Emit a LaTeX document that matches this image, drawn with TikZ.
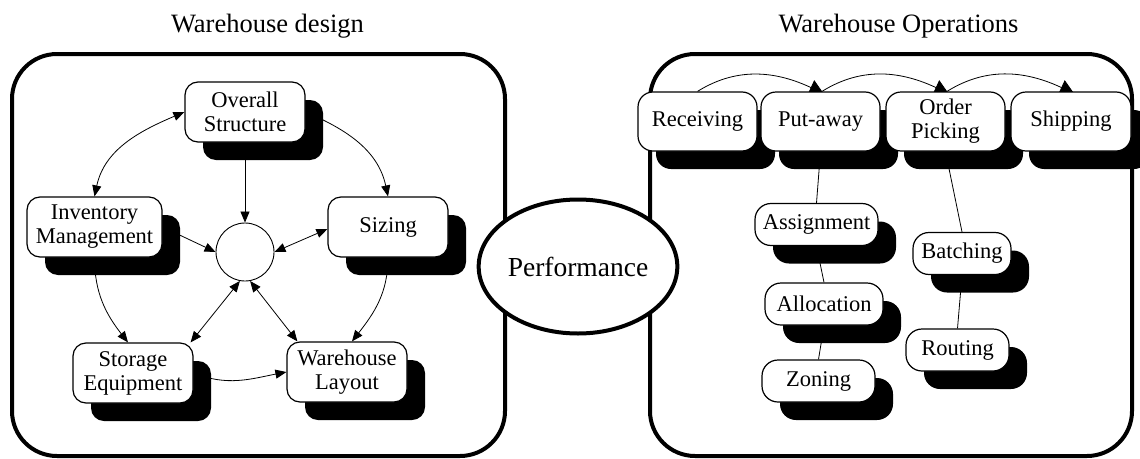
\documentclass[tikz,border=0pt]{standalone}
\usepackage{fontspec}
\setmainfont{Liberation Serif}
\usetikzlibrary{shapes.geometric,shadows,arrows.meta}

\pgfdeclarelayer{frames}
\pgfdeclarelayer{links}
\pgfsetlayers{frames,links,main}

\tikzset{
  card/.style={draw, line width=1.2pt, fill=white, align=center, inner sep=0pt,
    rounded corners=13pt, font=\fontsize{22.5}{24}\selectfont,
    drop shadow={shadow xshift=18pt, shadow yshift=-18pt, fill=black, opacity=1}},
  bigcard/.style={card, minimum width=120pt, minimum height=60pt},
  pill/.style={card, rounded corners=16pt, minimum height=42pt},
  frame/.style={draw, line width=4pt, rounded corners=45pt},
  link/.style={line width=0.8pt},
  tip/.style={-{Triangle[length=11pt,width=9pt]}},
  tips/.style={{Triangle[length=11pt,width=9pt]}-{Triangle[length=11pt,width=9pt]}},
  flowtip/.style={-{Triangle[length=14pt,width=16pt]}},
  title/.style={anchor=base, font=\fontsize{26.5}{30}\selectfont},
}

\begin{document}
\begin{tikzpicture}[x=1pt,y=1pt]
\useasboundingbox (0,0) rectangle (1140,-458);

% headings
\node[title] (t1) at (267.5,-32) {Warehouse design};
\node[title] (t2) at (898.5,-32) {Warehouse Operations};

% outer frames
\begin{pgfonlayer}{frames}
  \draw[frame] (12,-54) rectangle (505,-456);
  \draw[frame] (650,-54) rectangle (1132,-456);
\end{pgfonlayer}

% design elements
\node[bigcard] (os) at (245,-112) {Overall\\Structure};
\node[bigcard, minimum width=135pt] (inv) at (94.5,-227) {Inventory\\Management};
\node[bigcard] (sz) at (388,-227) {Sizing};
\node[bigcard] (st) at (133,-373) {Storage\\Equipment};
\node[bigcard] (wl) at (347,-372) {Warehouse\\Layout};
\node[draw, circle, line width=0.9pt, fill=white, minimum size=58pt, inner sep=0pt] (c) at (245,-252) {};

% operations flow
\node[bigcard, minimum width=119pt, minimum height=59pt, rounded corners=15pt] (rc) at (697.5,-121.5) {Receiving};
\node[bigcard, minimum width=119pt, minimum height=59pt, rounded corners=15pt] (pa) at (820.5,-121.5) {Put-away};
\node[bigcard, minimum width=119pt, minimum height=59pt, rounded corners=15pt] (op) at (945.5,-121.5) {Order\\Picking};
\node[bigcard, minimum width=120pt, minimum height=59pt, rounded corners=15pt] (sh) at (1071,-121.5) {Shipping};

% put-away and picking decisions
\node[pill, minimum width=123pt] (asg) at (816.5,-224.5) {Assignment};
\node[pill, minimum width=118pt] (alc) at (824,-304) {Allocation};
\node[pill, minimum width=113pt] (zn) at (818.5,-381) {Zoning};
\node[pill, minimum width=98pt] (bt) at (962,-253.5) {Batching};
\node[pill, minimum width=103pt] (rt) at (957.5,-350) {Routing};

% central measure
\node[draw, ellipse, line width=4pt, fill=white, minimum width=194pt, minimum height=134pt,
  inner sep=0pt, font=\fontsize{27.5}{30}\selectfont] (perf) at (578,-266.5) {Performance};

\begin{pgfonlayer}{links}
  % design relations
  \draw[link,tips] (os.west) to[out=203,in=78] (inv.north);
  \draw[link,tip] (os.east) to[out=-23,in=102] (sz.north);
  \draw[link,tip] (inv.south) to[out=270,in=128] ([xshift=-5pt]st.north);
  \draw[link,tip] (sz.south) to[out=270,in=52] ([xshift=5pt]wl.north);
  \draw[link,tip] (st.east) to[out=-22,in=191] (wl.west);
  \draw[link,tip] (os.south) -- (c.north);
  \draw[link,tip] (inv.east) -- (c.west);
  \draw[link,tips] ([yshift=-2pt]sz.west) -- (c.east);
  \draw[link,tips] (c.260) -- ([xshift=-3pt]st.north east);
  \draw[link,tips] (c.280) -- ([xshift=11pt]wl.north west);
  % flow between operations
  \draw[link,flowtip] (rc.north) to[out=32,in=155] ([xshift=3pt,yshift=-2pt]pa.north);
  \draw[link,flowtip] ([xshift=1.5pt]pa.north) to[out=32,in=155] ([xshift=3pt,yshift=-2pt]op.north);
  \draw[link,flowtip] ([xshift=1.5pt]op.north) to[out=32,in=155] ([xshift=3pt,yshift=-2pt]sh.north);
  % decision trees
  \draw[link] (pa.south) -- (asg.north);
  \draw[link] (asg.south) -- (alc.north);
  \draw[link] (alc.south) -- (zn.north);
  \draw[link] (op.south) -- (bt.north);
  \draw[link] (bt.south) -- (rt.north);
\end{pgfonlayer}
\end{tikzpicture}
\end{document}
